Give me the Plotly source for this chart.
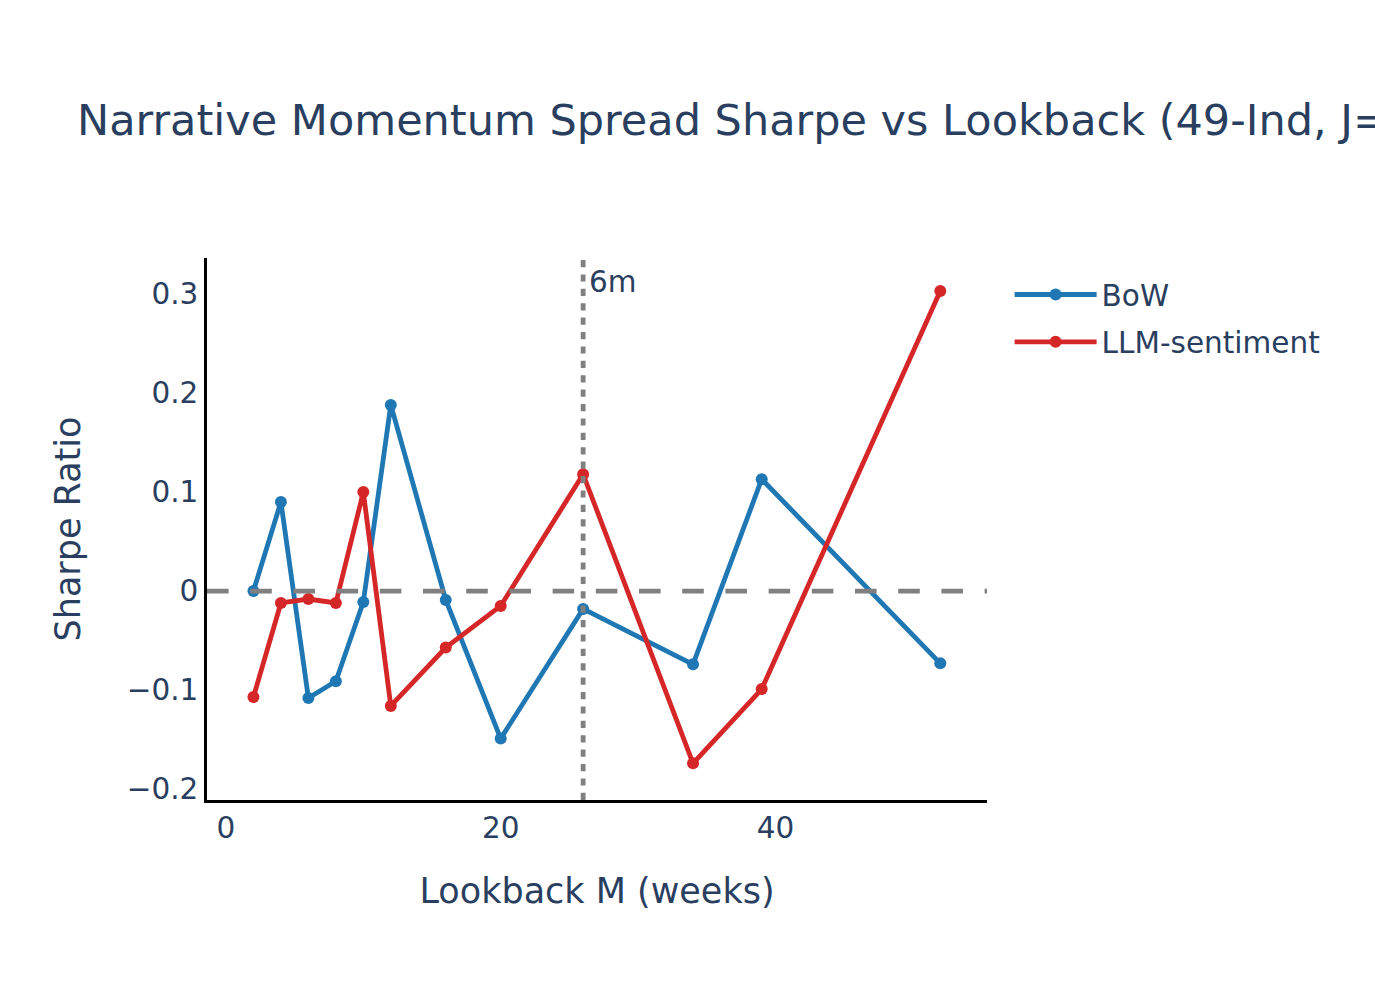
import plotly.graph_objects as go

lookback = [2, 4, 6, 8, 10, 12, 16, 20, 26, 34, 39, 52]
bow = [0.000, 0.090, -0.108, -0.091, -0.011, 0.188, -0.009, -0.149, -0.018, -0.074, 0.113, -0.073]
llm = [-0.107, -0.012, -0.008, -0.012, 0.100, -0.116, -0.057, -0.015, 0.118, -0.174, -0.099, 0.303]

LW = 4.8
fig = go.Figure()
fig.add_trace(go.Scatter(x=lookback, y=bow, mode="lines+markers", name="BoW", legendgroup="a",
                         line=dict(color="#1f77b4", width=LW), marker=dict(size=12)))
fig.add_trace(go.Scatter(x=lookback, y=llm, mode="lines+markers", name="LLM-sentiment", legendgroup="b",
                         line=dict(color="#d62728", width=LW), marker=dict(size=12)))

fig.add_hline(y=0, line=dict(color="gray", width=LW, dash="21.6px,21.6px"))
fig.add_vline(x=26, line=dict(color="gray", width=LW, dash="7.2px,7.2px"),
              annotation_text="6m", annotation_position="top right",
              annotation_font=dict(size=29.5), annotation_xshift=4, annotation_yshift=-5)

fig.update_layout(
    template="plotly_white",
    font=dict(family="Verdana, DejaVu Sans, sans-serif", size=29.5, color="#2a3f5f"),
    title=dict(text="Narrative Momentum Spread Sharpe vs Lookback (49-Ind, J=1)",
               font=dict(size=43), x=0.056, y=0.88, yanchor="middle"),
    margin=dict(l=207, r=388, t=258, b=200),
    legend=dict(font=dict(size=29.5), itemwidth=82, tracegroupgap=6, x=1.029, y=0.98),
    xaxis=dict(title=dict(text="Lookback M (weeks)", font=dict(size=35), standoff=35),
               range=[-1.38, 55.4], dtick=20, showgrid=False, zeroline=False,
               showline=True, linecolor="black", linewidth=2.5, ticks=""),
    yaxis=dict(title=dict(text="Sharpe Ratio", font=dict(size=35), standoff=36),
               range=[-0.211, 0.3364], showgrid=False, zeroline=False,
               showline=True, linecolor="black", linewidth=2.5, ticks="",
               dtick=0.1),
)

fig.write_html("out.html")
